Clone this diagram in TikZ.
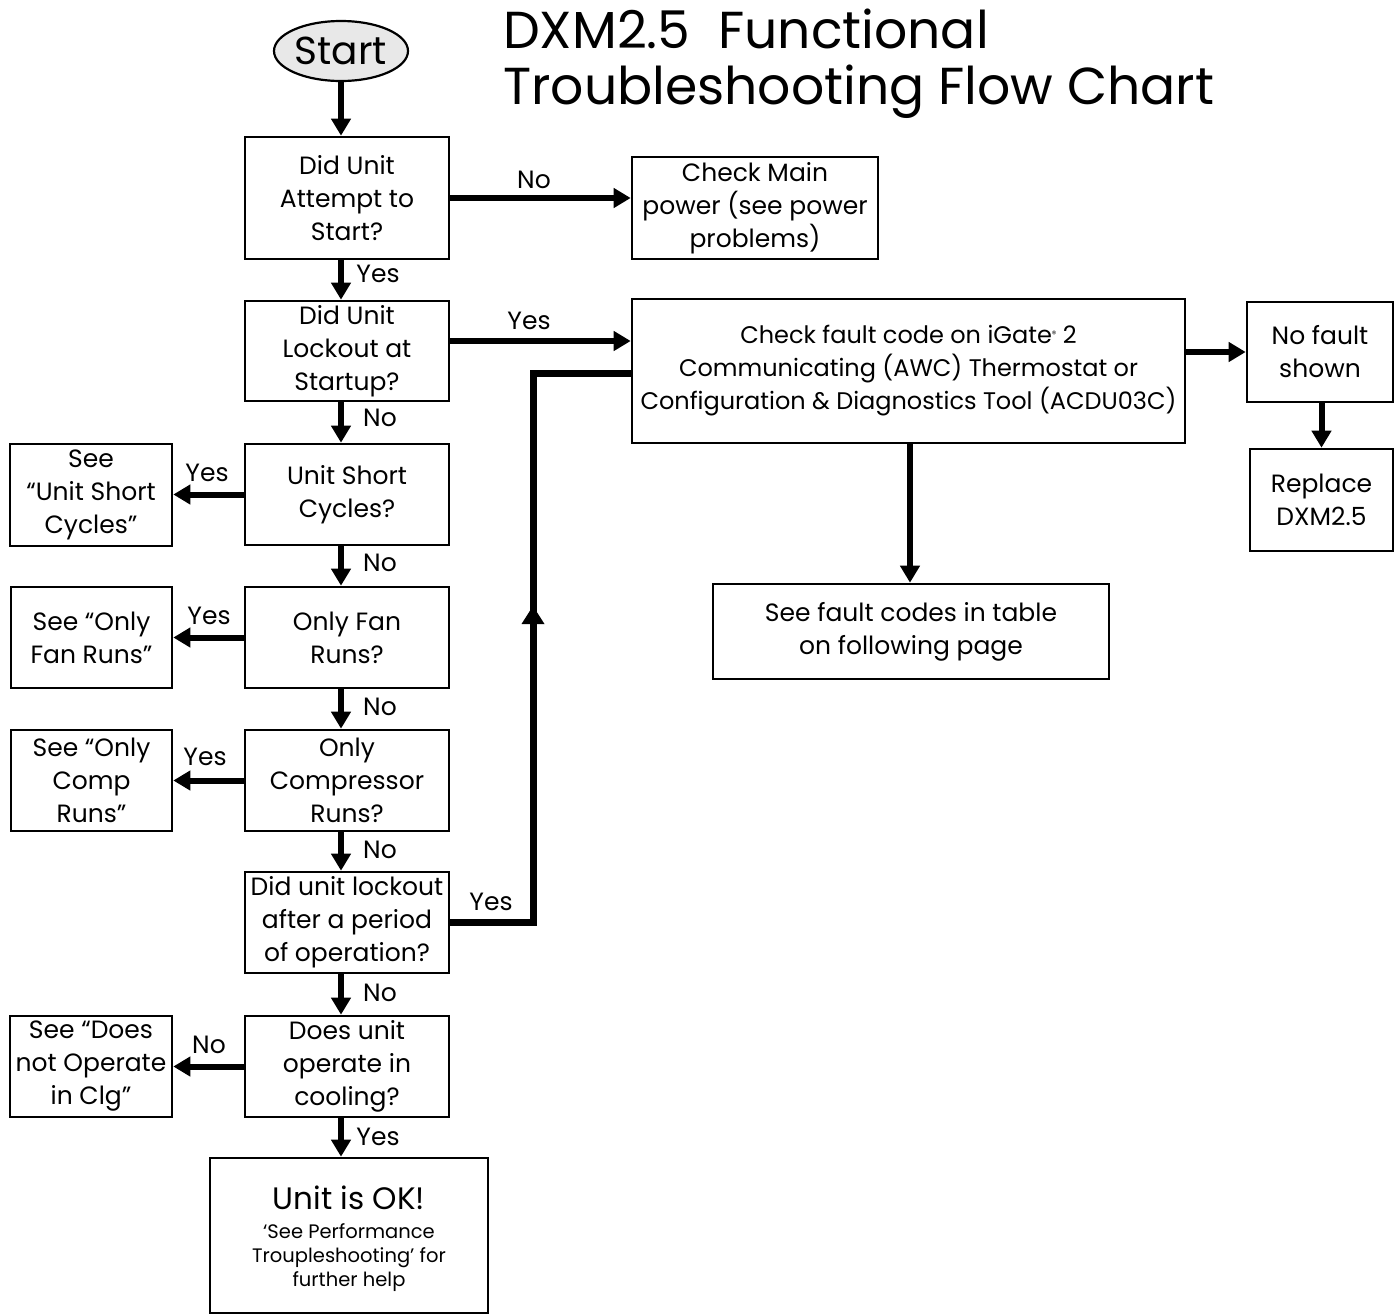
\documentclass[tikz,border=0pt]{standalone}
\usepackage{fontspec}
\setmainfont{Poppins}
\usetikzlibrary{arrows.meta,shapes.geometric}
\begin{document}
\begin{tikzpicture}[x=1pt,y=-1pt,
  box/.style={draw=black,line width=2.6pt,align=center,inner sep=0pt,
    font=\fontsize{25}{33}\selectfont},
  lbl/.style={font=\fontsize{25}{28}\selectfont,inner sep=0pt},
  arr/.style={line width=6pt,-{Triangle[length=17pt,width=19pt]}},
  flow/.style={line width=7pt}
]
\useasboundingbox (0,0) rectangle (1400,1315);
% title
\node[anchor=base west,inner sep=0pt,font=\fontsize{52}{56}\selectfont] (title1) at (503,48) {DXM2.5\ \ Functional};
\node[anchor=base west,inner sep=0pt,font=\fontsize{52}{56}\selectfont] (title2) at (503,104) {Troubleshooting Flow Chart};
% nodes
\node[draw=black,line width=2.2pt,ellipse,fill=black!9,minimum width=134pt,minimum height=60pt,inner sep=0pt,font=\fontsize{39}{40}\selectfont] (start) at (341,51) {Start};
\node[box,minimum width=204pt,minimum height=122pt] (q1) at (347,198) {Did Unit\\Attempt to\\Start?};
\node[box,minimum width=246pt,minimum height=102pt] (main) at (755,208) {Check Main\\power (see power\\problems)};
\node[box,minimum width=204pt,minimum height=100pt] (q2) at (347,351) {Did Unit\\Lockout at\\Startup?};
\node[box,minimum width=553pt,minimum height=144pt,font=\fontsize{24}{33}\selectfont] (fault) at (908.5,371) {Check fault code on iGate{\fontsize{9}{9}\selectfont\raisebox{1.4ex}{®}} 2\\Communicating (AWC) Thermostat or\\Configuration \& Diagnostics Tool (ACDU03C)};
\node[box,minimum width=146pt,minimum height=100pt] (nofault) at (1320,352) {No fault\\shown};
\node[box,minimum width=143pt,minimum height=102pt] (replace) at (1321.5,500) {Replace\\DXM2.5};
\node[box,minimum width=396pt,minimum height=95pt] (codes) at (911,631.5) {See fault codes in table\\on following page};
\node[box,minimum width=204pt,minimum height=101pt] (q3) at (347,494.5) {Unit Short\\Cycles?};
\node[box,minimum width=162pt,minimum height=102pt] (s3) at (91,495) {See\\“Unit Short\\Cycles”};
\node[box,minimum width=204pt,minimum height=101pt] (q4) at (347,637.5) {Only Fan\\Runs?};
\node[box,minimum width=161pt,minimum height=101pt] (s4) at (91.5,637.5) {See “Only\\Fan Runs”};
\node[box,minimum width=204pt,minimum height=101pt] (q5) at (347,780.5) {Only\\Compressor\\Runs?};
\node[box,minimum width=161pt,minimum height=101pt] (s5) at (91.5,780.5) {See “Only\\Comp\\Runs”};
\node[box,minimum width=204pt,minimum height=101pt] (q6) at (347,922.5) {Did unit lockout\\after a period\\of operation?};
\node[box,minimum width=204pt,minimum height=101pt] (q7) at (347,1066.5) {Does unit\\operate in\\cooling?};
\node[box,minimum width=162pt,minimum height=101pt] (s7) at (91,1066.5) {See “Does\\not Operate\\in Clg”};
\node[box,minimum width=278pt,minimum height=155pt] (ok) at (349,1235.5) {{\fontsize{31}{34}\selectfont\rule{0pt}{31pt}Unit is OK!}\\[-4pt]{\fontsize{19.5}{24}\selectfont ‘See Performance}\\[-9pt]{\fontsize{19.5}{24}\selectfont Troupleshooting’ for}\\[-9pt]{\fontsize{19.5}{24}\selectfont further help}};
% vertical arrows
\coordinate (q7s) at ([xshift=-6pt]q7.south);
\draw[arr] (start.south) -- (q1.north -| start.south);
\draw[arr] ([xshift=-6pt]q1.south) -- ([xshift=-6pt]q2.north);
\draw[arr] ([xshift=-6pt]q2.south) -- ([xshift=-6pt]q3.north);
\draw[arr] ([xshift=-6pt]q3.south) -- ([xshift=-6pt]q4.north);
\draw[arr] ([xshift=-6pt]q4.south) -- ([xshift=-6pt]q5.north);
\draw[arr] ([xshift=-6pt]q5.south) -- ([xshift=-6pt]q6.north);
\draw[arr] ([xshift=-6pt]q6.south) -- ([xshift=-6pt]q7.north);
\draw[arr] (q7s) -- (ok.north -| q7s);
\draw[arr] (replace.north |- nofault.south) -- (replace.north);
\draw[arr] ([xshift=-1pt]codes.north |- fault.south) -- ([xshift=-1pt]codes.north);
% horizontal arrows
\draw[arr] (q1.east) -- (q1.east -| main.west);
\draw[arr] ([yshift=10pt]q2.east) -- ([yshift=10pt]q2.east -| fault.west);
\draw[arr] (nofault.west -| fault.east) -- (nofault.west);
\draw[arr] (q3.west) -- (q3.west -| s3.east);
\draw[arr] (q4.west) -- (q4.west -| s4.east);
\draw[arr] (q5.west) -- (q5.west -| s5.east);
\draw[arr] (q7.west) -- (q7.west -| s7.east);
% loop from q6 to fault
\coordinate (lc1) at (533,922.5);
\coordinate (lmid) at (533,606);
\coordinate (lc2) at (533,373);
\draw[flow,line join=miter] (q6.east) -- (lc1) -- (lc2) -- (lc2 -| fault.west);
\fill (lmid) -- ++(-11.5,18) -- ++(23,0) -- cycle;
% labels
\node[lbl] (l1) at (534,180) {No};
\node[lbl] (l2) at (378,274) {Yes};
\node[lbl] (l3) at (529,321) {Yes};
\node[lbl] (l4) at (380,418) {No};
\node[lbl] (l5) at (207,473) {Yes};
\node[lbl] (l6) at (380,563) {No};
\node[lbl] (l7) at (209,616) {Yes};
\node[lbl] (l8) at (380,707) {No};
\node[lbl] (l9) at (205,757) {Yes};
\node[lbl] (l10) at (380,850) {No};
\node[lbl] (l11) at (491,902) {Yes};
\node[lbl] (l12) at (380,993) {No};
\node[lbl] (l13) at (209,1045) {No};
\node[lbl] (l14) at (378,1137) {Yes};
\end{tikzpicture}
\end{document}
